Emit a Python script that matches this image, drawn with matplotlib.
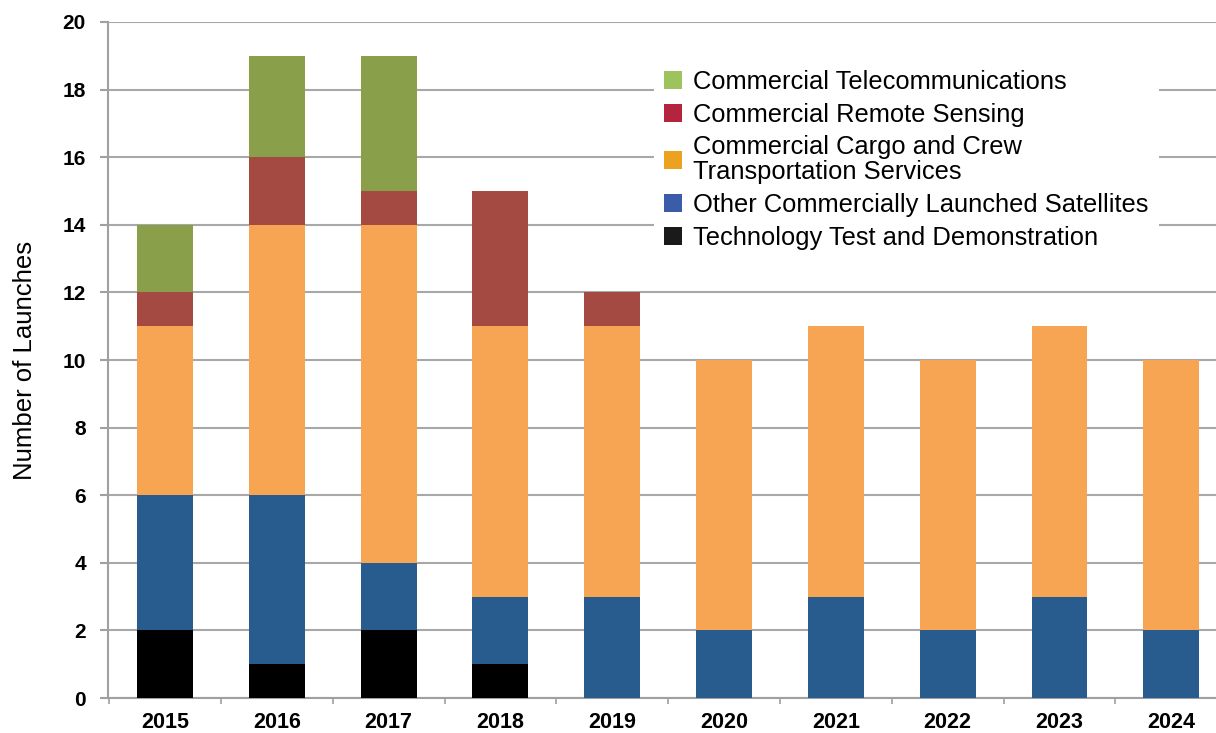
import numpy as np
import matplotlib
matplotlib.use("Agg")
import matplotlib.pyplot as plt
from matplotlib.patches import Patch

plt.rcParams['font.family'] = ['Liberation Sans', 'DejaVu Sans']

# data
years = ['2015', '2016', '2017', '2018', '2019', '2020', '2021', '2022', '2023', '2024']
tech_test = [2, 1, 2, 1, 0, 0, 0, 0, 0, 0]
other_sats = [4, 5, 2, 2, 3, 2, 3, 2, 3, 2]
cargo_crew = [5, 8, 10, 8, 8, 8, 8, 8, 8, 8]
remote_sensing = [1, 2, 1, 4, 1, 0, 0, 0, 0, 0]
telecom = [2, 3, 4, 0, 0, 0, 0, 0, 0, 0]

labels = ['Commercial Telecommunications',
          'Commercial Remote Sensing',
          'Commercial Cargo and Crew\nTransportation Services',
          'Other Commercially Launched Satellites',
          'Technology Test and Demonstration']

# bar colours and (slightly different) legend swatch colours
bar_colors = ['#000000', '#285c8f', '#f7a552', '#a44a42', '#8a9f4a']
legend_colors = ['#9cc35c', '#b3253f', '#eba21f', '#3b5ca8', '#1a1a1a']

fig = plt.figure(figsize=(12.16, 7.33), dpi=100)
ax = fig.add_axes([108 / 1216, 1 - 698 / 733, 1 - 108 / 1216, (698 - 22) / 733])

x = np.arange(len(years))
series = [tech_test, other_sats, cargo_crew, remote_sensing, telecom]
bottom = np.zeros(len(years))
for vals, col in zip(series, bar_colors):
    vals = np.array(vals)
    ax.bar(x, vals, width=0.5, bottom=bottom, color=col, edgecolor='none', zorder=3)
    bottom += vals

ax.set_xlim(-0.51, 9.40)
ax.set_ylim(0, 20)
ax.set_yticks(np.arange(0, 21, 2))
ax.set_xticks(x)
ax.set_xticklabels(years, fontsize=15.5, fontweight='bold')
ax.set_xticks(np.arange(-0.5, 9.4, 1), minor=True)
ax.tick_params(axis='x', which='major', length=0, pad=10)
ax.tick_params(axis='x', which='minor', length=4, color='#a0a0a0', width=1.2)
ax.tick_params(axis='y', length=6, color='#a0a0a0', width=1.5, labelsize=15, pad=10)
for lab in ax.get_yticklabels():
    lab.set_fontweight('bold')

ax.grid(axis='y', color='#a8a8a8', linewidth=1.5, zorder=0)
for s in ['top', 'right']:
    ax.spines[s].set_visible(False)
ax.spines['left'].set_color('#a0a0a0')
ax.spines['left'].set_linewidth(1.5)
ax.spines['bottom'].set_color('#a0a0a0')
ax.spines['bottom'].set_linewidth(1.5)

ax.set_ylabel('Number of Launches', fontsize=18.5, labelpad=18)

handles = [Patch(facecolor=c, edgecolor='none') for c in legend_colors]
leg = ax.legend(handles, labels, loc='upper left',
                bbox_to_anchor=(641 / 1216, 1 - 47 / 733),
                bbox_transform=fig.transFigure,
                fontsize=18.4, frameon=True, facecolor='white', edgecolor='none',
                framealpha=1, fancybox=False, handlelength=0.7, handleheight=0.7,
                handletextpad=0.45, labelspacing=0.34, borderpad=0.4)
leg.set_zorder(5)
for t in leg.get_texts():
    t.set_linespacing(1.05)

fig.savefig('out.png', dpi=100)
